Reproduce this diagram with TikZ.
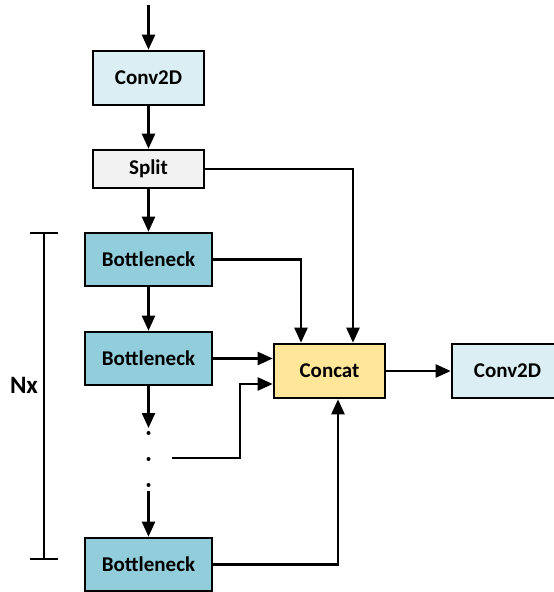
\documentclass[tikz,border=0pt]{standalone}
\usepackage{fontspec}
\setmainfont{Carlito}
\usetikzlibrary{arrows.meta}
\definecolor{convblue}{HTML}{DAEEF3}
\definecolor{splitgray}{HTML}{F2F2F2}
\definecolor{neckblue}{HTML}{92CDDC}
\definecolor{catyellow}{HTML}{FFE699}
\tikzset{
  blk/.style={draw, line width=2.6pt, inner sep=0pt, font=\fontsize{21}{24}\selectfont\bfseries,
    minimum width=111pt, minimum height=54pt},
  arr/.style={-{Triangle[length=15pt,width=13pt]}, line width=2.3pt},
  ln/.style={line width=2.3pt}
}

\begin{document}
\begin{tikzpicture}[x=1pt,y=1pt]
\useasboundingbox (0,0) rectangle (554,-592);
\coordinate (in) at (148.5,-5);
\node[blk, fill=convblue] (conv) at (148.5,-78) {Conv2D};
\node[blk, fill=splitgray, minimum height=38pt] (split) at (148.5,-169) {Split};
\node[blk, fill=neckblue, minimum width=127pt, minimum height=53pt] (neck1) at (148.5,-259.5) {Bottleneck};
\node[blk, fill=neckblue, minimum width=127pt, minimum height=53pt] (neck2) at (148.5,-358.5) {Bottleneck};
\node[blk, fill=neckblue, minimum width=127pt, minimum height=53pt] (neck3) at (148.5,-564.5) {Bottleneck};
\node[blk, fill=catyellow] (concat) at (329.5,-371) {Concat};
\node[blk, fill=convblue] (conv2) at (507.5,-371) {Conv2D};
\node[font=\fontsize{25}{28}\selectfont\bfseries] (nx) at (24,-385) {Nx};
\coordinate (dotA) at (148.5,-428);
\coordinate (dotB) at (172,-458);
\coordinate (dotC) at (148.5,-491);
\foreach \y in {433,459,485} \fill (148.5,-\y) circle (2pt);
\draw[arr] (in) -- (conv);
\draw[arr] (conv) -- (split);
\draw[arr] (split) -- (neck1);
\draw[arr] (neck1) -- (neck2);
\draw[arr] (neck2) -- (dotA);
\draw[arr] (dotC) -- (neck3);
\draw[arr] (split.east) -| ([xshift=23.5pt]concat.north);
\draw[arr] (neck1.east) -| ([xshift=-28.5pt]concat.north);
\draw[arr] (neck2.east) -- (concat.west |- neck2.east);
\draw[arr] (dotB) -- ++(68,0) |- ([yshift=-13pt]concat.west);
\draw[arr] (neck3.east) -| ([xshift=8.5pt]concat.south);
\draw[arr] (concat) -- (conv2);
\draw[ln] (30,-233) -- (58,-233);
\draw[ln] (44,-233) -- (44,-559);
\draw[ln] (30,-559) -- (58,-559);
\end{tikzpicture}
\end{document}
